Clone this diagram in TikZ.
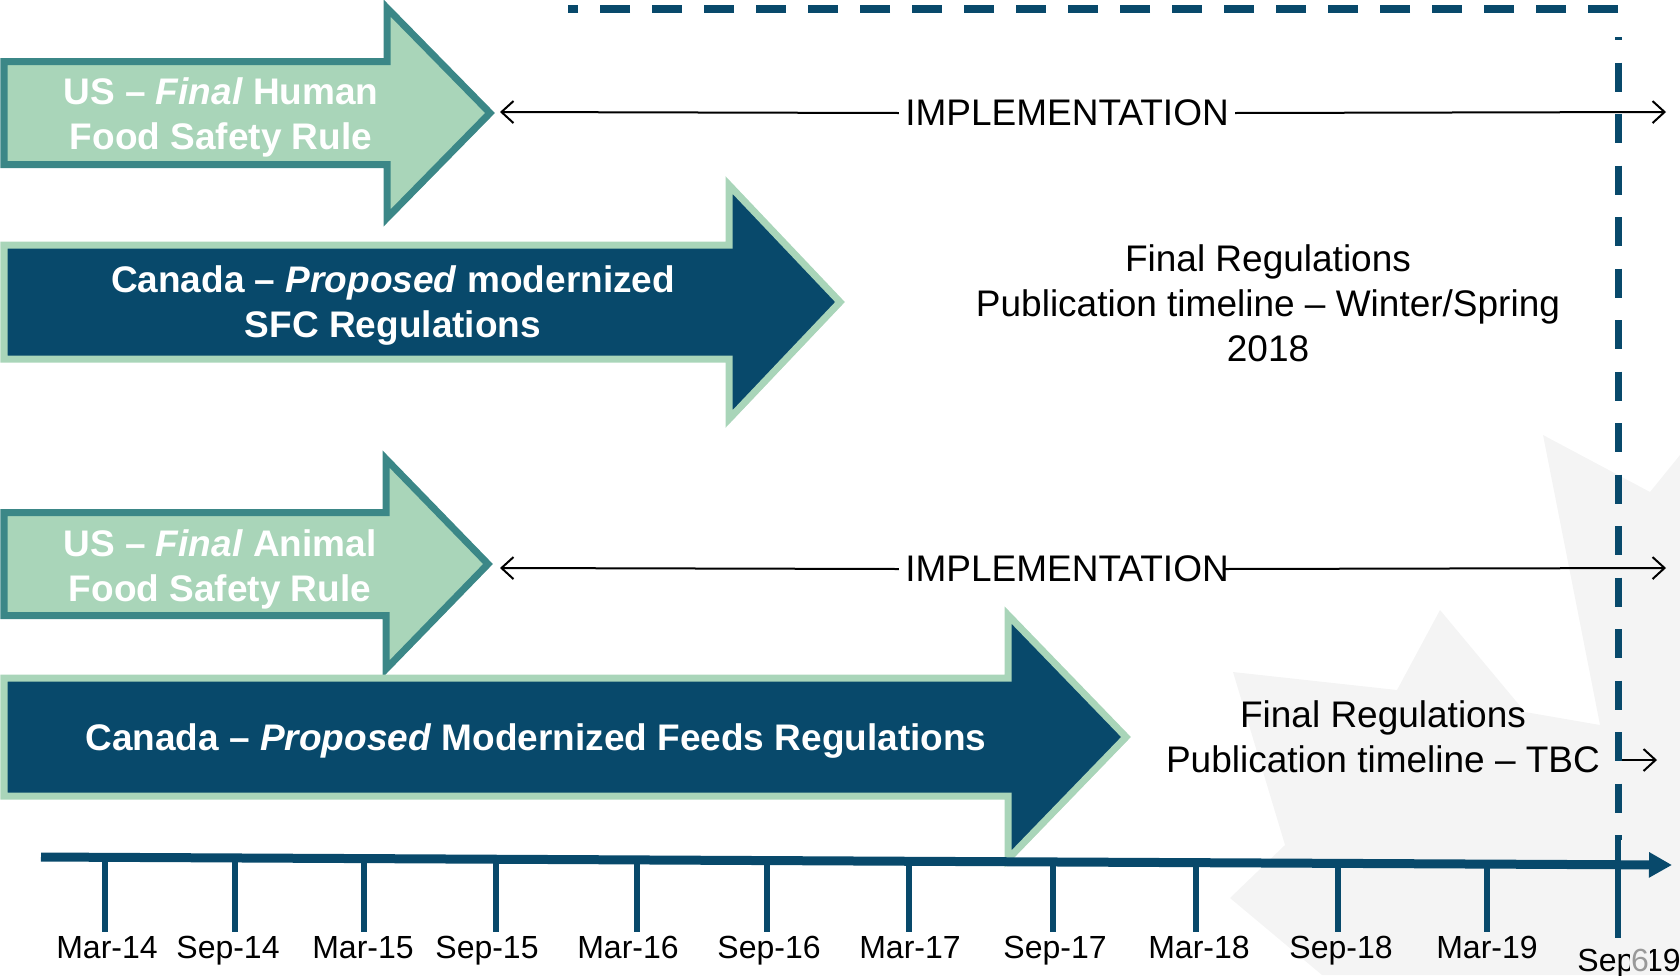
\documentclass[tikz,border=0pt]{standalone}
\usepackage{fontspec}
\setmainfont{Liberation Sans}
\usetikzlibrary{arrows.meta,shadows}
\definecolor{navy}{HTML}{08496B}
\definecolor{mint}{HTML}{A9D5B9}
\definecolor{rimteal}{HTML}{3B8787}
\definecolor{leafgray}{HTML}{F4F4F4}
\begin{document}
\begin{tikzpicture}[x=0.5pt,y=-0.5pt,
  arrowbody/.style={line width=3.5pt,line join=miter,drop shadow={shadow xshift=1.2pt,shadow yshift=-1.2pt,opacity=.25}},
  intext/.style={text=white,font=\bfseries\fontsize{18.5}{22.5}\selectfont,align=center},
  outtext/.style={font=\fontsize{18.5}{22.5}\selectfont,align=center,inner sep=3pt},
  implarrow/.style={line width=1pt,-{Straight Barb[length=6pt,width=11pt]}},
  datetick/.style={navy,line width=3pt},
  datelab/.style={font=\fontsize{16}{19}\selectfont,anchor=base}]
\useasboundingbox (0,0) rectangle (1680,975);
\fill[leafgray] (1680,455) -- (1650,492) -- (1543,435) -- (1600,725) -- (1525,712) -- (1440,610) -- (1397,690) -- (1233,672) -- (1285,845) -- (1230,898) -- (1322,975) -- (1680,975) -- cycle;
\foreach \cy/\sh/\hx/\hh/\tx/\fc/\dc in {113/51.5/387/105/490/mint/rimteal, 302/57/729/117/840/navy/mint, 564/51.5/386/105/488/mint/rimteal, 737/59/1008/122/1126/navy/mint} { \draw[arrowbody,fill=\fc,draw=\dc] (4,{\cy-\sh}) -- (\hx,{\cy-\sh}) -- (\hx,{\cy-\hh}) -- (\tx,\cy) -- (\hx,{\cy+\hh}) -- (\hx,{\cy+\sh}) -- (4,{\cy+\sh}) -- cycle; };
\node[intext] (humtxt) at (221,117) {US -- \textit{Final} Human\\Food Safety Rule};
\node[intext] (sfctxt) at (393,306) {Canada -- \textit{Proposed} modernized\\SFC Regulations};
\node[intext] (anitxt) at (220,569) {US -- \textit{Final} Animal\\Food Safety Rule};
\node[intext] (feedtxt) at (536,741) {Canada -- \textit{Proposed} Modernized Feeds Regulations};
\node[outtext] (implA) at (1067,113) {IMPLEMENTATION};
\node[outtext] (implB) at (1067,569) {IMPLEMENTATION};
\node[outtext] (finA) at (1268,303) {Final Regulations\\Publication timeline -- Winter/Spring\\2018};
\node[outtext] (finB) at (1383,737) {Final Regulations\\Publication timeline -- TBC};
\coordinate (implA-l) at (500,112); \coordinate (implA-r) at (1666,112);
\coordinate (implB-l) at (500,568); \coordinate (implB-r) at (1666,568);
\coordinate (tbc-l) at (1620,760); \coordinate (tbc-r) at (1657,760);
\draw[implarrow] (implA.west) -- (implA-l); \draw[implarrow] (implA.east) -- (implA-r);
\draw[implarrow] (implB.west) -- (implB-l); \draw[implarrow] ([xshift=-5.5pt]implB.east) -- (implB-r);
\draw[implarrow] (tbc-l) -- (tbc-r);
\draw[navy,line width=4pt,dash pattern=on 15pt off 11pt] (1618,9) -- (568,9);
\draw[navy,line width=3.5pt,dash pattern=on 14.5pt off 11.25pt,dash phase=13pt] (1618,37) -- (1618,840);
\foreach \x/\lx/\lab [count=\i] in {105/107/Mar-14,235/228/Sep-14,364/363/Mar-15,496/487/Sep-15,637/628/Mar-16,767/769/Sep-16,909/910/Mar-17,1053/1055/Sep-17,1196/1199/Mar-18,1338/1341/Sep-18,1487/1487/Mar-19} { \draw[datetick] (\x,{857+8*(\x-41)/1631}) -- (\x,932); \node[datelab] (d\i) at (\lx,958) {\lab}; };
\draw[datetick] (1618,840) -- (1618,938);
\node[datelab] (d12) at (1629,971) {Sep-19};
\node[datelab,text=black!40,fill=leafgray,inner sep=0.5pt] (pgno) at (1640,971) {6};
\draw[navy,line width=4.5pt,-{Triangle[length=11.5pt,width=12pt]}] (41,857) -- (1672,865);
\end{tikzpicture}
\end{document}
